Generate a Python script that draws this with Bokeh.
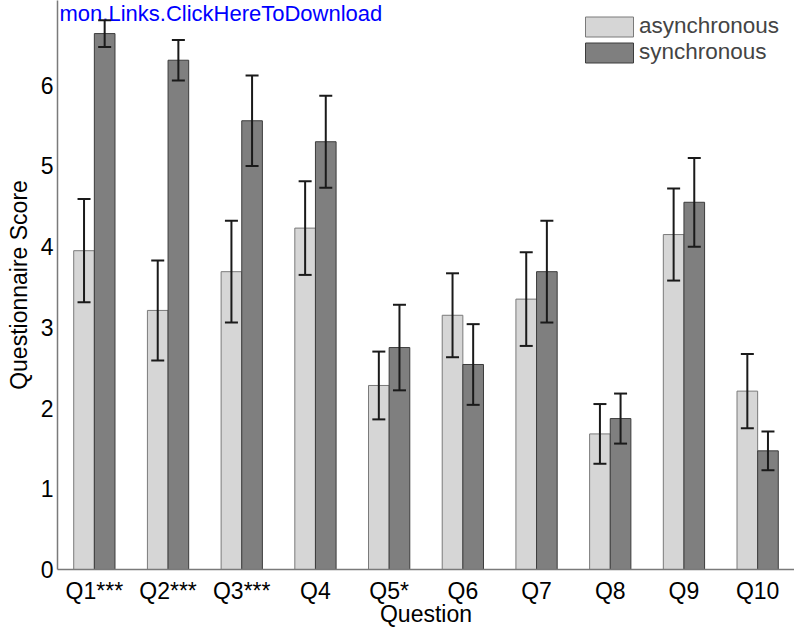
from bokeh.plotting import figure
from bokeh.models import ColumnDataSource, FactorRange, Range1d, Whisker, TeeHead, Label, Legend, LegendItem, FixedTicker
from bokeh.transform import dodge
from bokeh.embed import file_html
from bokeh.resources import INLINE

questions = ["Q1***", "Q2***", "Q3***", "Q4", "Q5*", "Q6", "Q7", "Q8", "Q9", "Q10"]
async_mean = [3.95, 3.21, 3.69, 4.23, 2.28, 3.15, 3.35, 1.68, 4.15, 2.21]
async_err = [0.64, 0.62, 0.63, 0.58, 0.42, 0.52, 0.58, 0.37, 0.57, 0.46]
sync_mean = [6.64, 6.31, 5.56, 5.30, 2.75, 2.54, 3.69, 1.87, 4.55, 1.47]
sync_err = [0.165, 0.25, 0.56, 0.57, 0.53, 0.50, 0.63, 0.31, 0.55, 0.24]
y_ticks = [0, 1, 2, 3, 4, 5, 6]

src = ColumnDataSource(dict(
    q=questions,
    a=async_mean,
    a_lo=[m - e for m, e in zip(async_mean, async_err)],
    a_hi=[m + e for m, e in zip(async_mean, async_err)],
    s=sync_mean,
    s_lo=[m - e for m, e in zip(sync_mean, sync_err)],
    s_hi=[m + e for m, e in zip(sync_mean, sync_err)],
))

FONT = "Liberation Sans"
FS = "23px"
p = figure(x_range=FactorRange(factors=questions, range_padding=0),
           y_range=Range1d(0, 7.05),
           width=794, height=629, output_backend="svg", toolbar_location=None,
           min_border_left=57, min_border_right=0, min_border_top=0, min_border_bottom=56)
p.outline_line_color = None
p.background_fill_color = "white"
p.border_fill_color = "white"
p.grid.visible = False

off = 0.14
w = 0.28
r1 = p.vbar(x=dodge("q", -off, range=p.x_range), top="a", width=w, source=src,
            fill_color="#d6d6d6", line_color="#7a7a7a", line_width=1)
r2 = p.vbar(x=dodge("q", off, range=p.x_range), top="s", width=w, source=src,
            fill_color="#7f7f7f", line_color="#3c3c3c", line_width=1)

for base, lo, hi in [(dodge("q", -off, range=p.x_range), "a_lo", "a_hi"),
                     (dodge("q", off, range=p.x_range), "s_lo", "s_hi")]:
    wk = Whisker(base=base, lower=lo, upper=hi, source=src, level="overlay",
                 line_color="#1a1a1a", line_width=2,
                 upper_head=TeeHead(size=13, line_color="#1a1a1a", line_width=2),
                 lower_head=TeeHead(size=13, line_color="#1a1a1a", line_width=2))
    p.add_layout(wk)

for ax in (p.xaxis[0], p.yaxis[0]):
    ax.axis_line_color = "#7a7a7a"
    ax.axis_line_width = 1.5
    ax.major_tick_out = 0
    ax.major_tick_in = 0
    ax.minor_tick_out = 0
    ax.minor_tick_in = 0
    ax.major_label_text_font = FONT
    ax.major_label_text_font_size = FS
    ax.major_label_text_color = "black"
    ax.axis_label_text_font = FONT
    ax.axis_label_text_font_size = FS
    ax.axis_label_text_font_style = "normal"
    ax.axis_label_text_color = "black"

p.yaxis.ticker = FixedTicker(ticks=y_ticks)
p.yaxis.axis_label = "Questionnaire Score"
p.yaxis.major_label_standoff = 4
p.yaxis.axis_label_standoff = 6
p.xaxis.axis_label = "Question"
p.xaxis.major_label_standoff = 8
p.xaxis.axis_label_standoff = -6

legend = Legend(items=[LegendItem(label="asynchronous", renderers=[r1]),
                       LegendItem(label="synchronous", renderers=[r2])],
                location=(522, 504), margin=0, padding=0, spacing=0,
                glyph_width=60, glyph_height=25, label_standoff=0,
                label_text_font=FONT, label_text_font_size="22.5px",
                border_line_color=None, background_fill_color="white",
                background_fill_alpha=1.0)
p.add_layout(legend)

wm = Label(x=2, y=556, x_units="screen", y_units="screen",
           text="mon.Links.ClickHereToDownload", text_align="left",
           text_baseline="alphabetic", text_color="#0000ff",
           text_font=FONT, text_font_size="22px")
p.add_layout(wm)

open("out.html", "w").write(file_html(p, INLINE))
